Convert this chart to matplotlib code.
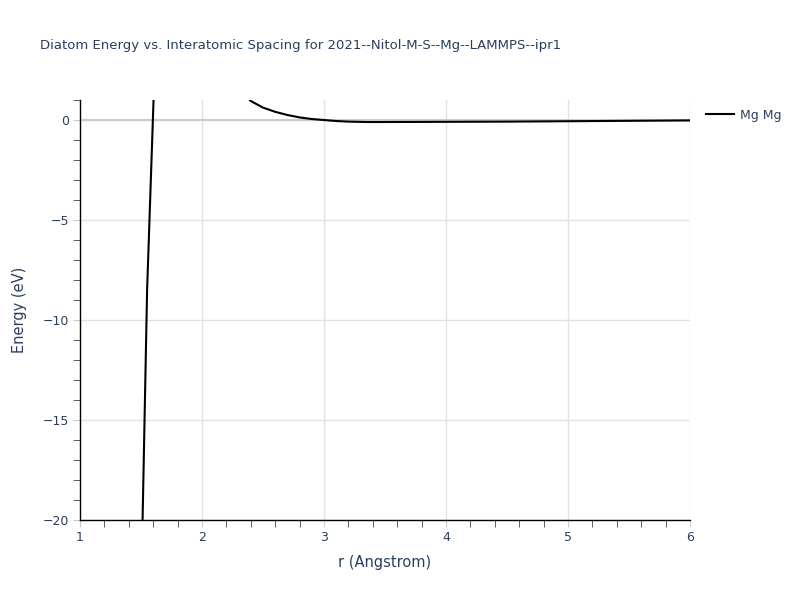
import numpy as np
import matplotlib.pyplot as plt
from matplotlib.ticker import MultipleLocator

# Mg-Mg diatom energy curve
r = [1.50, 1.55, 1.60, 1.65, 1.70, 1.80, 1.90, 2.00, 2.10, 2.20, 2.30,
     2.35, 2.40, 2.50, 2.60, 2.70, 2.80, 2.90, 3.00, 3.10, 3.20, 3.35,
     3.50, 4.00, 4.50, 5.00, 5.50, 6.00]
energy = [-24.0, -8.5, 0.5, 9.0, 12.0, 11.0, 8.0, 5.5, 3.6, 2.3, 1.5,
          1.25, 0.95, 0.62, 0.41, 0.25, 0.13, 0.05, 0.0, -0.05, -0.08, -0.10,
          -0.10, -0.09, -0.08, -0.06, -0.04, -0.02]

title = "Diatom Energy vs. Interatomic Spacing for 2021--Nitol-M-S--Mg--LAMMPS--ipr1"
label = "Mg Mg"

txt = "#2a3f5f"
plt.rcParams['font.family'] = ['DejaVu Sans']

fig = plt.figure(figsize=(8, 6), dpi=100)
ax = fig.add_axes([0.1, 0.1333, 0.7625, 0.7])

ax.plot(r, energy, color="black", lw=1.5, label=label, zorder=3)

ax.set_xlim(1, 6)
ax.set_ylim(-20, 1)
ax.xaxis.set_major_locator(MultipleLocator(1))
ax.yaxis.set_major_locator(MultipleLocator(5))
ax.xaxis.set_minor_locator(MultipleLocator(0.2))
ax.yaxis.set_minor_locator(MultipleLocator(1))

ax.grid(True, which="major", color="#e2e2e2", lw=1)
ax.axhline(0, color="#cccccc", lw=1.5, zorder=1)
ax.set_axisbelow(True)

for s in ["top", "right"]:
    ax.spines[s].set_visible(False)
for s in ["left", "bottom"]:
    ax.spines[s].set_color("black")
    ax.spines[s].set_linewidth(1)

ax.tick_params(which="major", length=5, color="#cccccc", labelcolor=txt,
               labelsize=9, pad=3)
ax.tick_params(which="minor", length=5, color="#444444")

ax.set_xlabel("r (Angstrom)", color=txt, fontsize=10.5, labelpad=8)
ax.set_ylabel("Energy (eV)", color=txt, fontsize=10.5, labelpad=11)

fig.text(0.05, 0.925, title, color=txt, fontsize=9.5, va="center")

leg = ax.legend(loc="upper left", bbox_to_anchor=(1.012, 1.0), frameon=False,
                fontsize=9, handlelength=2.2, handletextpad=0.5,
                borderaxespad=0.3)
for t in leg.get_texts():
    t.set_color(txt)

fig.savefig("out.png", dpi=100)
